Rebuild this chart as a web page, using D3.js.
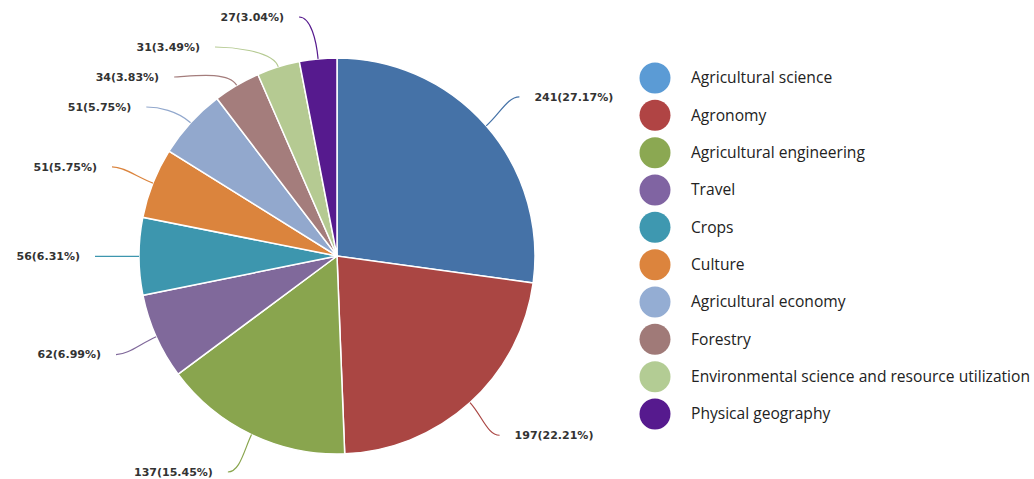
<!DOCTYPE html>
<html><head><meta charset="utf-8">
<script src="https://cdn.jsdelivr.net/npm/d3@7"></script>
<style>html,body{margin:0;padding:0;background:#fff;}svg{display:block;}</style>
</head><body><svg id="c" width="1034" height="479"></svg>
<script>
const categories = ["Agricultural science","Agronomy","Agricultural engineering","Travel","Crops","Culture","Agricultural economy","Forestry","Environmental science and resource utilization","Physical geography"];
const values = [241,197,137,62,56,51,51,34,31,27];
const sliceColors = ["#4572A7","#AA4643","#89A54E","#80699B","#3D96AE","#DB843D","#92A8CD","#A47D7C","#B5CA92","#561A8E"];
const legendColors = ["#5B9BD5","#B04444","#8BA852","#8064A2","#3E98B0","#DC843D","#94ADD3","#A07A78","#B3CC94","#561A8E"];

const svg = d3.select("#c");
const cx = 337, cy = 256, r = 198, labelR = 242;
const total = d3.sum(values);
const data = categories.map((c,i)=>({name:c,value:values[i],i}));
const pie = d3.pie().value(d=>d.value).sort(null);
const arcs = pie(data);
const arc = d3.arc().innerRadius(0).outerRadius(r);
const g = svg.append("g").attr("transform",`translate(${cx},${cy})`);
g.selectAll("path.slice").data(arcs).join("path").attr("class","slice")
  .attr("d",arc).attr("fill",d=>sliceColors[d.data.i]).attr("stroke","#fff").attr("stroke-width",1.5);

// label layout
const labs = arcs.map(a=>{
  const m=(a.startAngle+a.endAngle)/2;
  return {a, m, side: Math.sin(m)>=0?1:-1, y: -labelR*Math.cos(m)};
});
const minY=17-cy, maxY=472-cy, gap=30;
[1,-1].forEach(s=>{
  const L=labs.filter(l=>l.side===s).sort((p,q)=>p.y-q.y);
  let prev=-Infinity;
  L.forEach(l=>{ l.y=Math.max(l.y,minY,prev+gap); prev=l.y; });
  let next=Infinity;
  for(let k=L.length-1;k>=0;k--){ L[k].y=Math.min(L[k].y,maxY,next-gap); next=L[k].y; }
});
labs.forEach(l=>{
  const dy=Math.max(-labelR,Math.min(labelR,l.y));
  l.x=l.side*Math.sqrt(labelR*labelR-dy*dy);
  const ex=r*Math.sin(l.m), ey=-r*Math.cos(l.m);
  const c1x=(r+18)*Math.sin(l.m), c1y=-(r+18)*Math.cos(l.m);
  l.path=`M${ex},${ey}C${c1x},${c1y} ${l.x-l.side*12},${l.y} ${l.x},${l.y}`;
});
g.selectAll("path.conn").data(labs).join("path").attr("class","conn")
  .attr("d",l=>l.path).attr("fill","none").attr("stroke",l=>sliceColors[l.a.data.i]).attr("stroke-width",1.2);
g.selectAll("text.lab").data(labs).join("text").attr("class","lab")
  .attr("x",l=>l.x+l.side*15).attr("y",l=>l.y).attr("dy","0.35em")
  .attr("text-anchor",l=>l.side>0?"start":"end")
  .attr("font-family","DejaVu Sans, Verdana, sans-serif").attr("font-weight","bold").attr("font-size",11)
  .attr("fill","#333")
  .text(l=>`${l.a.data.value}(${(l.a.data.value/total*100).toFixed(2)}%)`);

// legend
const ly = d3.scalePoint().domain(categories).range([78,414]);
const lg = svg.append("g");
lg.selectAll("circle").data(categories).join("circle")
  .attr("cx",655).attr("cy",d=>ly(d)).attr("r",15.5).attr("fill",(d,i)=>legendColors[i]);
lg.selectAll("text").data(categories).join("text")
  .attr("x",691).attr("y",d=>ly(d)).attr("dy","0.35em")
  .attr("font-family","Open Sans, sans-serif").attr("font-size",15.6).attr("fill","#222")
  .text(d=>d);
</script></body></html>
